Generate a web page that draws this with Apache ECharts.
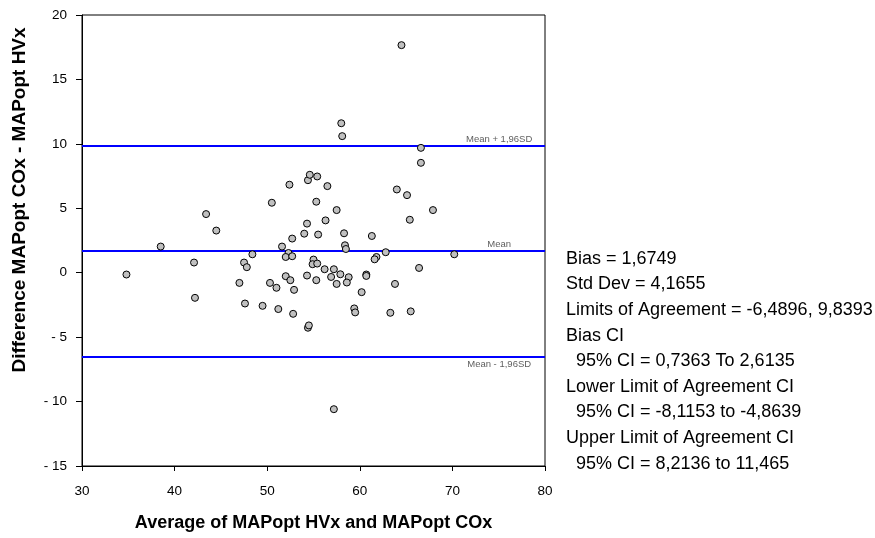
<!DOCTYPE html>
<html>
<head>
<meta charset="utf-8">
<script src="https://cdn.jsdelivr.net/npm/echarts@6/dist/echarts.min.js"></script>
<style>
  html, body { margin: 0; padding: 0; background: #fff; }
  #chart { width: 875px; height: 538px; }
</style>
</head>
<body>
<div id="chart"></div>
<script>
// Bland-Altman: average of the two MAPopt estimates vs their difference
const avgValues = [
  34.8, 38.5, 43.4, 44.5, 42.1, 42.2, 48.4, 47.5, 47.8, 47.0,
  47.6, 49.5, 50.3, 51.0, 51.2, 52.8, 50.5, 52.4, 52.0, 52.5,
  52.9, 51.6, 52.3, 52.0, 52.7, 52.7, 54.0, 54.3, 55.3, 54.4,
  54.6, 55.4, 55.5, 54.3, 55.3, 55.0, 54.9, 55.4, 58.0, 58.1,
  66.6, 66.6, 56.5, 64.0, 65.1, 57.5, 67.9, 65.4, 56.3, 58.3,
  61.3, 58.4, 58.5, 62.8, 70.2, 61.8, 61.6, 66.4, 56.2, 57.2,
  57.9, 56.9, 58.8, 57.5, 58.6, 60.7, 60.7, 63.8, 60.2, 59.4,
  59.5, 63.3, 65.5, 54.4, 54.5, 57.2, 64.5
];
const diffValues = [
  -0.14, 2.03, 4.55, 3.27, 0.79, -1.95, 1.43, 0.79, 0.43, -0.79,
  -2.39, -2.57, -0.79, -1.17, -2.82, -3.19, 5.43, 6.83, -0.27, -0.58,
  -1.33, 2.03, 1.53, 1.22, 1.28, 2.65, 3.03, 3.81, 5.51, 7.18,
  7.60, 7.47, 2.96, -0.22, -0.58, 1.02, 0.66, 0.71, 11.6, 10.6,
  9.69, 8.53, 6.72, 6.46, 6.02, 4.86, 4.86, 4.11, 4.06, 3.06,
  2.85, 2.13, 1.84, 1.59, 1.43, 1.22, 1.04, 0.37, 0.27, 0.27,
  -0.12, -0.33, -0.35, -0.87, -0.76, -0.14, -0.25, -0.87, -1.51, -2.77,
  -3.08, -3.11, -3.00, -4.27, -4.09, -10.59, 17.66
];

// Summary statistics
const bias = 1.6749;
const stdDev = 4.1655;
const lowerLoA = -6.4896;
const upperLoA = 9.8393;

// Reference line labels
const refLines = [
  { name: 'Mean + 1,96SD', value: upperLoA, side: 'top' },
  { name: 'Mean', value: bias, side: 'top' },
  { name: 'Mean - 1,96SD', value: lowerLoA, side: 'bottom' }
];

const statsLines = [
  'Bias = 1,6749',
  'Std Dev = 4,1655',
  'Limits of Agreement = -6,4896, 9,8393',
  'Bias CI',
  '  95% CI = 0,7363 To 2,6135',
  'Lower Limit of Agreement CI',
  '  95% CI = -8,1153 to -4,8639',
  'Upper Limit of Agreement CI',
  '  95% CI = 8,2136 to 11,465'
];

const xTicks = { min: 30, max: 80, interval: 10 };
const yTicks = { min: -15, max: 20, interval: 5 };

const xTitle = 'Average of MAPopt HVx and MAPopt COx';
const yTitle = 'Difference MAPopt COx - MAPopt HVx';

const FONT = '"Liberation Sans", Arial, sans-serif';
const labelX = 75.05;

const chart = echarts.init(document.getElementById('chart'), null, { renderer: 'canvas' });

const points = avgValues.map((x, i) => [x, diffValues[i]]);

chart.setOption({
  animation: false,
  backgroundColor: '#ffffff',
  grid: {
    left: 82, right: 330, top: 15, bottom: 72,
    show: true, borderColor: '#000', borderWidth: 1, backgroundColor: 'transparent'
  },
  xAxis: {
    type: 'value',
    min: xTicks.min, max: xTicks.max, interval: xTicks.interval,
    name: xTitle,
    nameLocation: 'middle', nameGap: 48,
    nameTextStyle: { fontFamily: FONT, fontWeight: 'bold', fontSize: 18, color: '#000' },
    axisLine: { onZero: false, lineStyle: { color: '#000', width: 1 } },
    axisTick: { show: true, inside: false, length: 5, lineStyle: { color: '#000' } },
    axisLabel: { fontFamily: FONT, fontSize: 13.5, color: '#000', margin: 18 },
    splitLine: { show: false }
  },
  yAxis: {
    type: 'value',
    min: yTicks.min, max: yTicks.max, interval: yTicks.interval,
    axisLine: { onZero: false, lineStyle: { color: '#000', width: 1 } },
    axisTick: { show: true, inside: false, length: 6, lineStyle: { color: '#000' } },
    axisLabel: {
      fontFamily: FONT, fontSize: 13.5, color: '#000', margin: 15,
      // negative ticks are printed with a spaced sign, e.g. "- 5"
      formatter: v => (v < 0 ? '- ' + Math.abs(v) : String(v))
    },
    splitLine: { show: false }
  },
  series: [
    {
      type: 'scatter',
      name: 'differences',
      data: points,
      symbol: 'circle',
      symbolSize: 7,
      itemStyle: { color: '#c0c0c0', borderColor: '#000', borderWidth: 1, opacity: 1 },
      z: 5,
      markLine: {
        silent: true,
        symbol: ['none', 'none'],
        label: { show: false },
        lineStyle: { color: '#0000ff', width: 2, type: 'solid' },
        data: refLines.map(r => ({ yAxis: r.value }))
      }
    },
    {
      type: 'scatter',
      name: 'lineLabels',
      data: refLines.map(r => ({
        value: [labelX, r.value],
        label: { position: r.side, distance: r.side === 'top' ? 2 : 3 }
      })),
      symbolSize: 0,
      silent: true,
      label: {
        show: true,
        formatter: p => refLines[p.dataIndex].name,
        fontFamily: FONT, fontSize: 9.5, color: '#333'
      },
      z: 6
    }
  ],
  graphic: [
    {
      type: 'text',
      x: 20, y: 200,
      rotation: Math.PI / 2,
      style: {
        text: yTitle,
        fontFamily: FONT, fontWeight: 'bold', fontSize: 19, fill: '#000',
        align: 'center', verticalAlign: 'middle'
      }
    },
    {
      type: 'text',
      left: 566, top: 246,
      style: {
        text: statsLines.join('\n'),
        fontFamily: FONT, fontSize: 18, fill: '#000',
        lineHeight: 25.6
      }
    }
  ]
});
</script>
</body>
</html>
